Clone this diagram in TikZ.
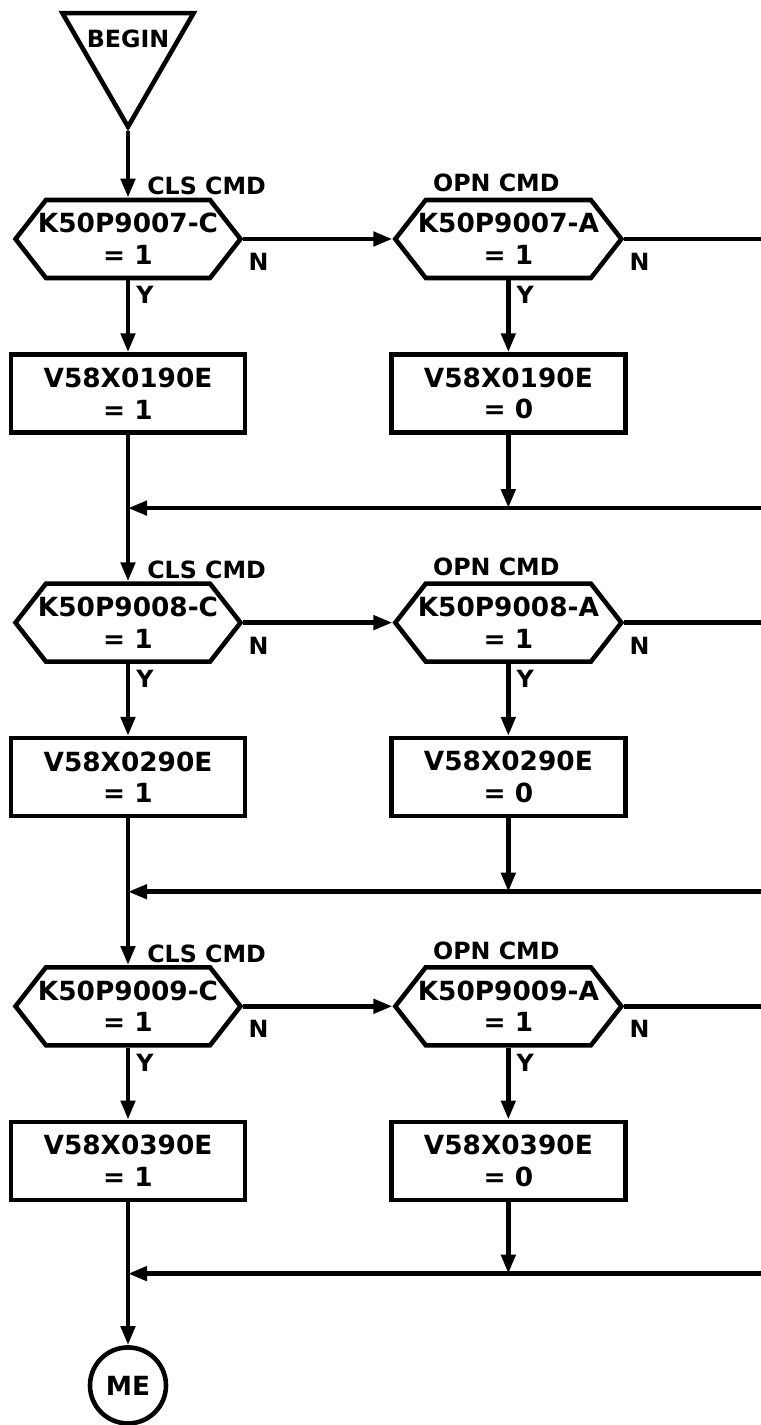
\documentclass[tikz,border=0pt]{standalone}
\usepackage{fontspec}
\setmainfont{DejaVu Sans}
\usetikzlibrary{arrows.meta,positioning,calc,shapes.geometric,shapes.symbols}

\begin{document}
\begin{tikzpicture}[
  line width=2.6pt,
  font=\fontsize{15}{18}\selectfont\bfseries,
  dec/.style={draw, signal, signal to=east and west, signal pointer angle=104, minimum height=15.6mm, inner xsep=-1.6mm, inner ysep=0pt, align=center},
  act/.style={draw, rectangle, minimum width=46.8mm, minimum height=15.6mm, inner sep=0pt, align=center},
  term/.style={draw, circle, minimum size=15.2mm, inner sep=0pt},
  lbl/.style={inner sep=0pt, font=\fontsize{13.5}{15}\selectfont\bfseries},
  arr/.style={-{Triangle[length=3.8mm, width=2.8mm]}}
]
\useasboundingbox (0,0) rectangle (152.2mm,-285mm);
\coordinate (edge) at (152.2mm,0);

% start
\node[draw, regular polygon, regular polygon sides=3, shape border rotate=180, minimum size=30.3mm, inner sep=0pt] (begin) at (25.6mm,-10.2mm) {};
\node[lbl] (begintxt) at (25.6mm,-7.8mm) {BEGIN};

% valve 1
\node[dec] (hex1c) at (25.6mm,-47.8mm) {K50P9007-C\\= 1};
\node[dec, right=29.8mm of hex1c] (hex1a) {K50P9007-A\\= 1};
\node[act, below=14.4mm of hex1c] (box1c) {V58X0190E\\= 1};
\node[act, below=14.4mm of hex1a] (box1a) {V58X0190E\\= 0};

% valve 2
\node[dec, below=29.3mm of box1c] (hex2c) {K50P9008-C\\= 1};
\node[dec, right=29.8mm of hex2c] (hex2a) {K50P9008-A\\= 1};
\node[act, below=14.4mm of hex2c] (box2c) {V58X0290E\\= 1};
\node[act, below=14.4mm of hex2a] (box2a) {V58X0290E\\= 0};

% valve 3
\node[dec, below=29.3mm of box2c] (hex3c) {K50P9009-C\\= 1};
\node[dec, right=29.8mm of hex3c] (hex3a) {K50P9009-A\\= 1};
\node[act, below=14.4mm of hex3c] (box3c) {V58X0390E\\= 1};
\node[act, below=14.4mm of hex3a] (box3a) {V58X0390E\\= 0};

\node[term, below=28.6mm of box3c] (me) {ME};

% labels
\node[lbl, anchor=base west] (cls1) at ([xshift=3.4mm, yshift=0.6mm]hex1c.north) {CLS CMD};
\node[lbl, anchor=base] (opn1) at ([xshift=-2.4mm, yshift=1.2mm]hex1a.north) {OPN CMD};
\node[lbl, anchor=base west] (cls2) at ([xshift=3.4mm, yshift=0.6mm]hex2c.north) {CLS CMD};
\node[lbl, anchor=base] (opn2) at ([xshift=-2.4mm, yshift=1.2mm]hex2a.north) {OPN CMD};
\node[lbl, anchor=base west] (cls3) at ([xshift=3.4mm, yshift=0.6mm]hex3c.north) {CLS CMD};
\node[lbl, anchor=base] (opn3) at ([xshift=-2.4mm, yshift=1.2mm]hex3a.north) {OPN CMD};

\node[lbl, below right=2.4mm and 0.6mm of hex1c.east] (n1c) {N};
\node[lbl, below right=2.4mm and 0.6mm of hex1a.east] (n1a) {N};
\node[lbl, below right=2.4mm and 0.6mm of hex2c.east] (n2c) {N};
\node[lbl, below right=2.4mm and 0.6mm of hex2a.east] (n2a) {N};
\node[lbl, below right=2.4mm and 0.6mm of hex3c.east] (n3c) {N};
\node[lbl, below right=2.4mm and 0.6mm of hex3a.east] (n3a) {N};
\node[lbl, below right=0.8mm and 1.2mm of hex1c.south] (y1c) {Y};
\node[lbl, below right=0.8mm and 1.2mm of hex1a.south] (y1a) {Y};
\node[lbl, below right=0.8mm and 1.2mm of hex2c.south] (y2c) {Y};
\node[lbl, below right=0.8mm and 1.2mm of hex2a.south] (y2a) {Y};
\node[lbl, below right=0.8mm and 1.2mm of hex3c.south] (y3c) {Y};
\node[lbl, below right=0.8mm and 1.2mm of hex3a.south] (y3a) {Y};

% merge points
\coordinate (j1) at ($(box1c.south)!0.5!(hex2c.north)$);
\coordinate (j2) at ($(box2c.south)!0.5!(hex3c.north)$);
\coordinate (j3) at ($(box3c.south)!0.5!(me.north)$);

\draw[arr] (begin.south) -- (hex1c.north);
\draw[arr] (hex1c.east) -- (hex1a.west);
\draw (hex1a.east) -- (hex1a.east -| edge);
\draw[arr] (hex1c.south) -- (box1c.north);
\draw[arr] (hex1a.south) -- (box1a.north);
\draw[arr] (box1a.south) -- (box1a.south |- j1);
\draw[arr] (j1 -| edge) -- (j1);
\draw[arr] (box1c.south) -- (hex2c.north);

\draw[arr] (hex2c.east) -- (hex2a.west);
\draw (hex2a.east) -- (hex2a.east -| edge);
\draw[arr] (hex2c.south) -- (box2c.north);
\draw[arr] (hex2a.south) -- (box2a.north);
\draw[arr] (box2a.south) -- (box2a.south |- j2);
\draw[arr] (j2 -| edge) -- (j2);
\draw[arr] (box2c.south) -- (hex3c.north);

\draw[arr] (hex3c.east) -- (hex3a.west);
\draw (hex3a.east) -- (hex3a.east -| edge);
\draw[arr] (hex3c.south) -- (box3c.north);
\draw[arr] (hex3a.south) -- (box3a.north);
\draw[arr] (box3a.south) -- (box3a.south |- j3);
\draw[arr] (j3 -| edge) -- (j3);
\draw[arr] (box3c.south) -- (me.north);
\end{tikzpicture}
\end{document}
